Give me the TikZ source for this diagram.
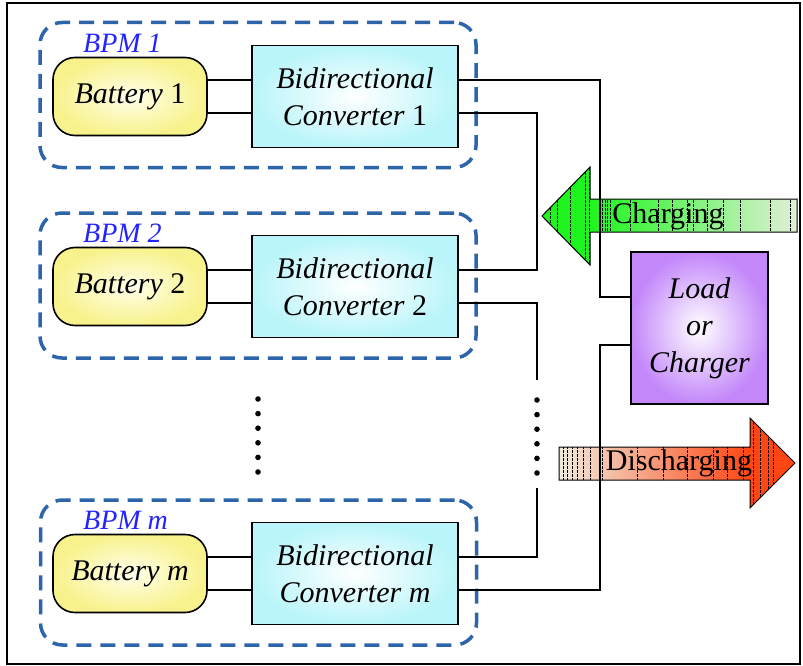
\documentclass[tikz,border=0pt]{standalone}
\usepackage{fontspec}
\setmainfont{Liberation Serif}
\usetikzlibrary{calc}

\definecolor{bpmblue}{RGB}{45,100,170}
\definecolor{bpmtext}{RGB}{35,35,255}
\definecolor{batyellow}{RGB}{248,242,140}
\definecolor{convcyan}{RGB}{185,245,250}
\definecolor{loadpurple}{RGB}{195,135,250}
\definecolor{chggreen}{RGB}{30,245,30}
\definecolor{chgpale}{RGB}{225,240,215}
\definecolor{dchred}{RGB}{255,70,20}
\definecolor{dchpale}{RGB}{240,235,220}

\tikzset{
  bpmbox/.style={draw=bpmblue, line width=3.5pt, dash pattern=on 15pt off 9pt,
    rounded corners=22pt, minimum width=436pt, minimum height=145pt},
  bpmlabel/.style={text=bpmtext, anchor=west, inner sep=0pt,
    font=\fontsize{28}{32}\selectfont\itshape},
  battery/.style={draw, line width=1.6pt, rounded corners=22pt,
    minimum width=154pt, minimum height=78pt, inner color=yellow!8,
    outer color=batyellow, font=\fontsize{30}{36}\selectfont\itshape},
  converter/.style={draw, line width=1.6pt, minimum width=206pt,
    minimum height=102pt, inner color=white, outer color=convcyan,
    align=center, font=\fontsize{30}{37}\selectfont\itshape},
  loadbox/.style={draw, line width=1.6pt, minimum width=137pt,
    minimum height=152pt, inner color=white, outer color=loadpurple,
    align=center, font=\fontsize{30}{37}\selectfont\itshape},
  wire/.style={line width=1.6pt},
  stripe/.style={line width=1pt, dash pattern=on 2.5pt off 1.5pt},
  flowlabel/.style={font=\fontsize{30}{36}\selectfont, inner sep=0pt}
}

\begin{document}
\begin{tikzpicture}[x=1pt, y=-1pt]

  % Frame
  \useasboundingbox (0,0) rectangle (803,666);
  \draw[line width=1.5pt] (7,3) rectangle (800,664);

  % BPM groups
  \node[bpmbox] (bpm1) at (258,95) {};
  \node[bpmbox] (bpm2) at (258,285.5) {};
  \node[bpmbox] (bpmm) at (258.5,572.5) {};
  \node[bpmlabel] (lbl1) at (83,43) {BPM 1};
  \node[bpmlabel] (lbl2) at (83,233) {BPM 2};
  \node[bpmlabel] (lblm) at (83,520) {BPM m};

  % Batteries and converters
  \node[battery] (bat1) at (130,96.5) {Battery \textup{1}};
  \node[battery] (bat2) at (130,286.5) {Battery \textup{2}};
  \node[battery] (batm) at (130,573.5) {Battery m};
  \node[converter] (conv1) at (355,96.5) {Bidirectional\\Converter \textup{1}};
  \node[converter] (conv2) at (355,286.5) {Bidirectional\\Converter \textup{2}};
  \node[converter] (convm) at (355,573.5) {Bidirectional\\Converter m};

  % Load
  \node[loadbox] (load) at (699.5,328) {Load\\or\\Charger};

  % Battery to converter
  \foreach \i in {1,2,m} {
    \draw[wire] ([yshift=16.5pt]bat\i.east) -- ([yshift=16.5pt]conv\i.west);
    \draw[wire] ([yshift=-16.5pt]bat\i.east) -- ([yshift=-16.5pt]conv\i.west);
    \coordinate (c\i a) at ([yshift=16.5pt]conv\i.east);
    \coordinate (c\i b) at ([yshift=-16.5pt]conv\i.east);
  }

  % Charging arrow
  \begin{scope}
    \clip (542,216) -- (590,167) -- (590,199) -- (797,199) -- (797,232)
      -- (590,232) -- (590,265) -- cycle;
    \shade[left color=chggreen, right color=chgpale] (590,199) rectangle (797,232);
    \fill[chggreen] (540,165) rectangle (592,267);
    \foreach \x in {550,557,570,585,589,602,605,607,610,630,658,672,687,693,707,723,740,770,790}
      \draw[stripe] (\x,160) -- (\x,270);
  \end{scope}
  \draw[line width=1pt] (542,216) -- (590,167) -- (590,199) -- (797,199) -- (797,232)
    -- (590,232) -- (590,265) -- cycle;
  \node[flowlabel] (chg) at (668,216) {Charging};

  % Discharging arrow
  \begin{scope}
    \clip (559,447) -- (750,447) -- (750,418) -- (795,463) -- (750,508)
      -- (750,480) -- (559,480) -- cycle;
    \shade[left color=dchpale, right color=dchred] (559,447) rectangle (750,480);
    \fill[dchred] (748,416) rectangle (800,510);
    \foreach \x in {563,567,572,577,583,590,602,637,663,687,713,727,743,753,760,768,773}
      \draw[stripe] (\x,410) -- (\x,515);
  \end{scope}
  \draw[line width=1pt] (559,447) -- (750,447) -- (750,418) -- (795,463) -- (750,508)
    -- (750,480) -- (559,480) -- cycle;
  \node[flowlabel] (dch) at (679,463) {Discharging};

  % Bus lines
  \coordinate (busL) at (537,0);
  \coordinate (busR) at (600,0);
  \coordinate (ldA) at ([yshift=31pt]load.west);
  \coordinate (ldB) at ([yshift=-17pt]load.west);
  \coordinate (gapT) at (537,380);
  \coordinate (gapB) at (537,488);
  \draw[wire] (c1a) -| (ldA -| busR) -- (ldA);
  \draw[wire] (cmb) -| (ldB -| busR) -- (ldB);
  \draw[wire] (c1b) -| (c2a -| busL) -- (c2a);
  \draw[wire] (c2b) -| (gapT);
  \draw[wire] (gapB) |- (cma);

  % Dots
  \foreach \k in {0,...,5} {
    \fill (537,400+14.6*\k) circle (2.8pt);
    \fill (258,399+14.6*\k) circle (2.8pt);
  }

\end{tikzpicture}
\end{document}
